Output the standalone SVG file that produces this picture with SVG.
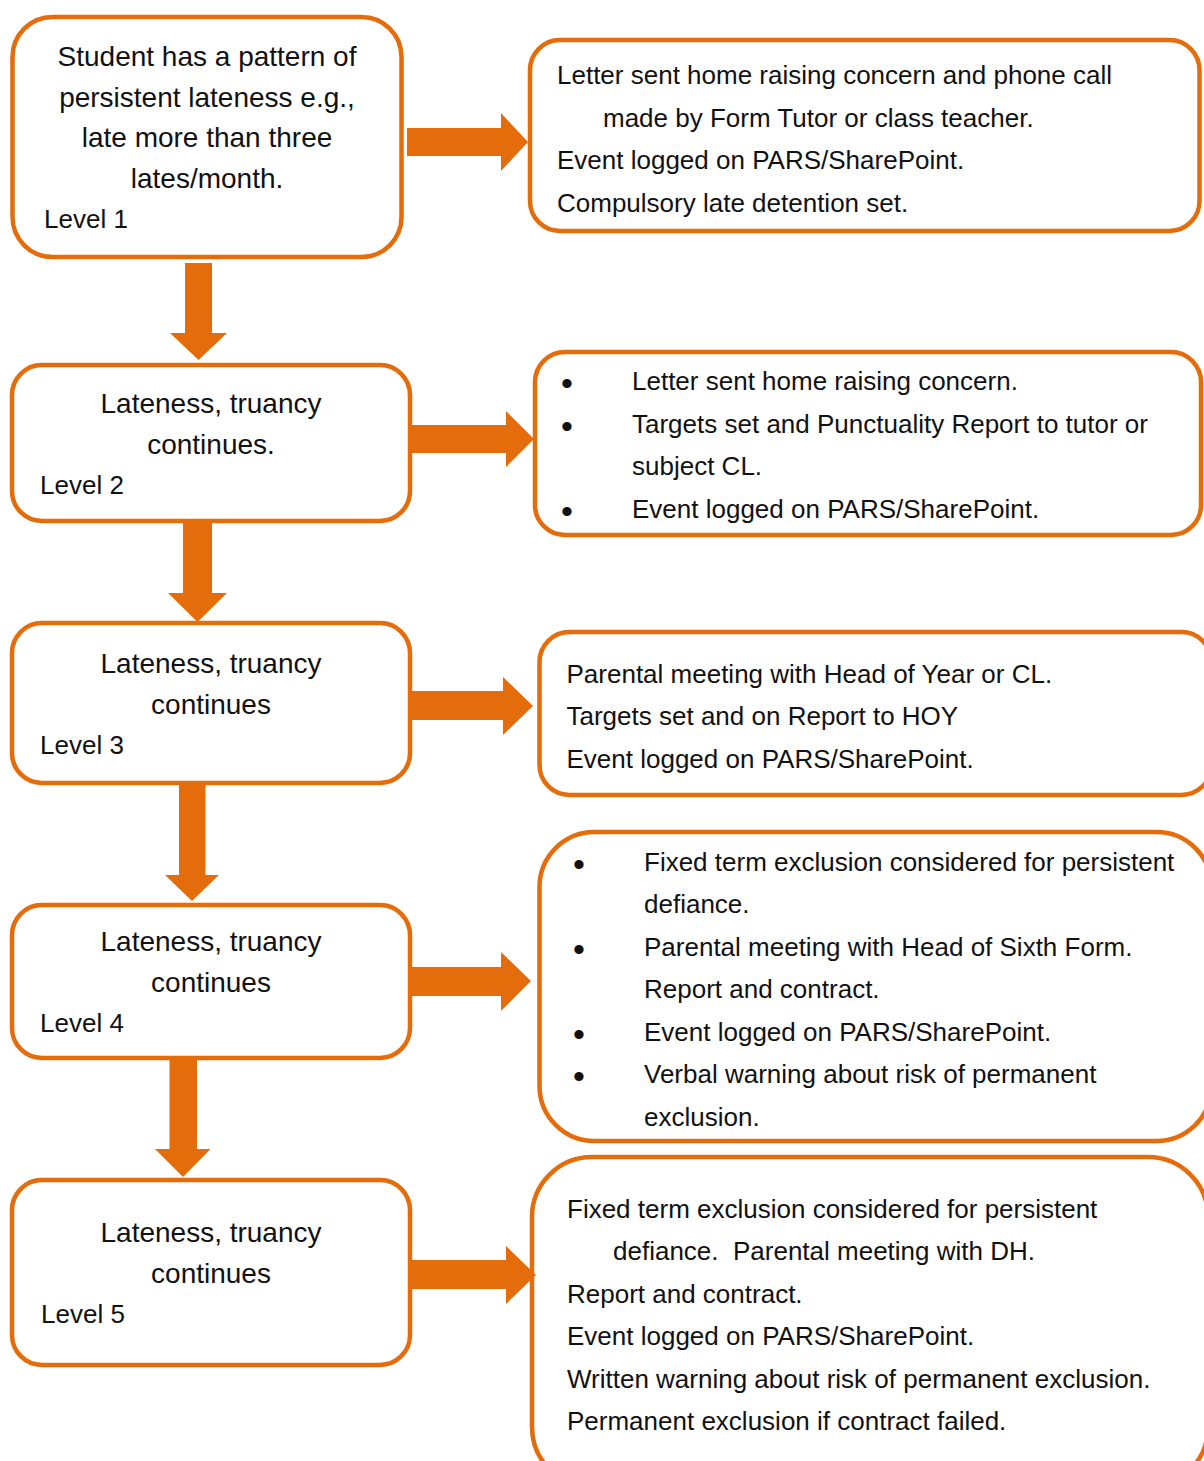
<svg xmlns="http://www.w3.org/2000/svg" width="1204" height="1461" viewBox="0 0 1204 1461">
<style>
.box{fill:#fff;stroke:#E46C0A;stroke-width:4.5}
.arr{fill:#E46C0A}
text{font-family:"Liberation Sans",Arial,sans-serif;fill:#111}
.l{font-size:28px;text-anchor:middle}
.lv{font-size:26px}
.r{font-size:26px}
.b{font-size:34px;text-anchor:middle}
</style>
<rect width="1204" height="1461" fill="#fff"/>
<g id="level1">
<rect class="box" x="12.5" y="17" width="389" height="240" rx="40"/>
<text class="l" x="207" y="66">Student has a pattern of</text>
<text class="l" x="207" y="106.5">persistent lateness e.g.,</text>
<text class="l" x="207" y="147">late more than three</text>
<text class="l" x="207" y="187.5">lates/month.</text>
<text class="lv" x="44" y="228">Level 1</text>
</g>
<g id="action1">
<rect class="box" x="530" y="40" width="669.5" height="191" rx="30"/>
<text class="r" x="557" y="84">Letter sent home raising concern and phone call</text>
<text class="r" x="603" y="126.5">made by Form Tutor or class teacher.</text>
<text class="r" x="557" y="169">Event logged on PARS/SharePoint.</text>
<text class="r" x="557" y="211.5">Compulsory late detention set.</text>
</g>
<g id="level2">
<rect class="box" x="12" y="365" width="398" height="156" rx="30"/>
<text class="l" x="211" y="413">Lateness, truancy</text>
<text class="l" x="211" y="454">continues.</text>
<text class="lv" x="40" y="494">Level 2</text>
</g>
<g id="action2">
<rect class="box" x="535" y="352" width="666" height="183" rx="30"/>
<text class="b" x="567" y="395">•</text>
<text class="r" x="632" y="390">Letter sent home raising concern.</text>
<text class="b" x="567" y="437.5">•</text>
<text class="r" x="632" y="432.5">Targets set and Punctuality Report to tutor or</text>
<text class="r" x="632" y="475">subject CL.</text>
<text class="b" x="567" y="522.5">•</text>
<text class="r" x="632" y="517.5">Event logged on PARS/SharePoint.</text>
</g>
<g id="level3">
<rect class="box" x="12" y="623" width="398" height="160" rx="30"/>
<text class="l" x="211" y="673">Lateness, truancy</text>
<text class="l" x="211" y="714">continues</text>
<text class="lv" x="40" y="754">Level 3</text>
</g>
<g id="action3">
<rect class="box" x="539.5" y="632" width="672" height="163" rx="30"/>
<text class="r" x="566.5" y="682.5">Parental meeting with Head of Year or CL.</text>
<text class="r" x="566.5" y="725">Targets set and on Report to HOY</text>
<text class="r" x="566.5" y="767.5">Event logged on PARS/SharePoint.</text>
</g>
<g id="level4">
<rect class="box" x="12" y="905" width="398" height="153" rx="30"/>
<text class="l" x="211" y="951">Lateness, truancy</text>
<text class="l" x="211" y="992">continues</text>
<text class="lv" x="40" y="1032">Level 4</text>
</g>
<g id="action4">
<rect class="box" x="539.5" y="832" width="672" height="309" rx="55"/>
<text class="b" x="579" y="875.5">•</text>
<text class="r" x="644" y="870.5">Fixed term exclusion considered for persistent</text>
<text class="r" x="644" y="913">defiance.</text>
<text class="b" x="579" y="960.5">•</text>
<text class="r" x="644" y="955.5">Parental meeting with Head of Sixth Form.</text>
<text class="r" x="644" y="998">Report and contract.</text>
<text class="b" x="579" y="1045.5">•</text>
<text class="r" x="644" y="1040.5">Event logged on PARS/SharePoint.</text>
<text class="b" x="579" y="1088">•</text>
<text class="r" x="644" y="1083">Verbal warning about risk of permanent</text>
<text class="r" x="644" y="1126">exclusion.</text>
</g>
<g id="level5">
<rect class="box" x="12" y="1180" width="398" height="185" rx="30"/>
<text class="l" x="211" y="1242">Lateness, truancy</text>
<text class="l" x="211" y="1283">continues</text>
<text class="lv" x="41" y="1323">Level 5</text>
</g>
<g id="action5">
<rect class="box" x="532" y="1157" width="676" height="330" rx="60"/>
<text class="r" x="567" y="1218">Fixed term exclusion considered for persistent</text>
<text class="r" x="613" y="1260" xml:space="preserve">defiance.  Parental meeting with DH.</text>
<text class="r" x="567" y="1302.5">Report and contract.</text>
<text class="r" x="567" y="1345">Event logged on PARS/SharePoint.</text>
<text class="r" x="567" y="1387.5">Written warning about risk of permanent exclusion.</text>
<text class="r" x="567" y="1430">Permanent exclusion if contract failed.</text>
</g>
<g id="connectors">
<polygon class="arr" points="407,128 501,128 501,113 528,142 501,171 501,156 407,156"/>
<polygon class="arr" points="185,263 212,263 212,333 227,333 198.5,360 170,333 185,333"/>
<polygon class="arr" points="412,425 506,425 506,411 534,439 506,467 506,453 412,453"/>
<polygon class="arr" points="183,521 212,521 212,593 227,593 197.5,622 168,593 183,593"/>
<polygon class="arr" points="412,691 503,691 503,677 533,706 503,735 503,720 412,720"/>
<polygon class="arr" points="179,785 205.5,785 205.5,875 219,875 192,901 165,875 179,875"/>
<polygon class="arr" points="412,967 501,967 501,952 531,981 501,1011 501,996 412,996"/>
<polygon class="arr" points="169.5,1060 197,1060 197,1149 210.5,1149 183,1177 155,1149 169.5,1149"/>
<polygon class="arr" points="412,1260 506,1260 506,1246 536,1275 506,1304 506,1289 412,1289"/>
</g>
</svg>
